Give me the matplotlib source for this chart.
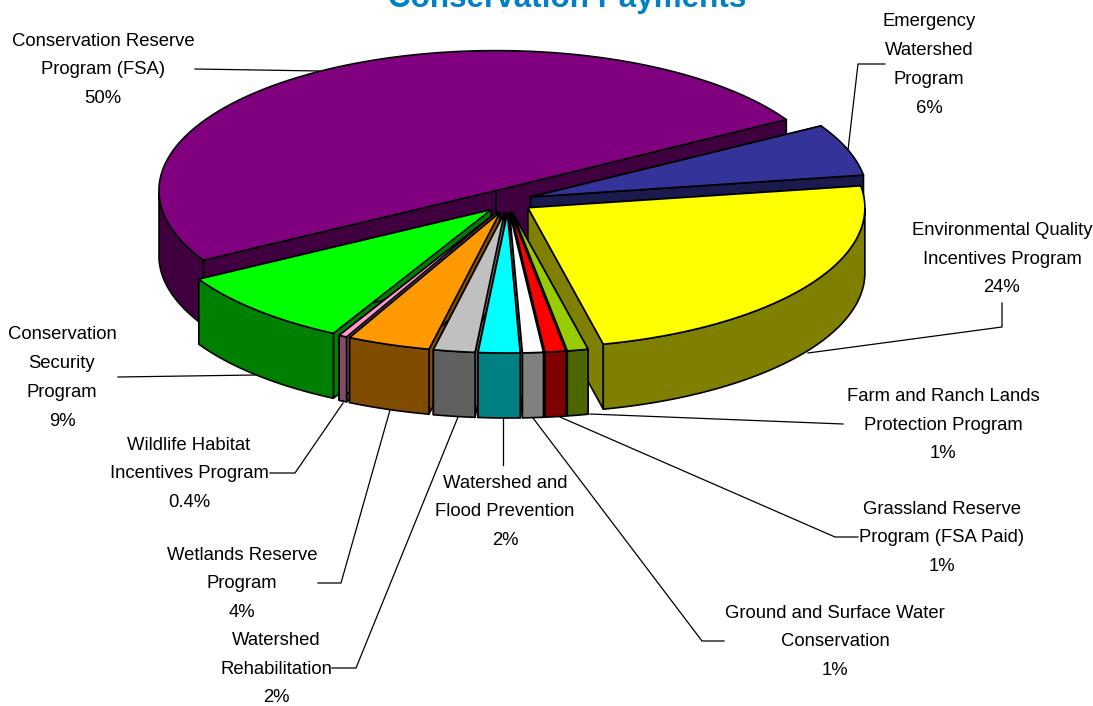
import numpy as np
import matplotlib
matplotlib.use('Agg')
import matplotlib.pyplot as plt
from matplotlib.patches import Polygon

plt.rcParams['font.family'] = ['Liberation Sans', 'DejaVu Sans']

# Clockwise from the back right of the pie
names = ['Emergency\nWatershed\nProgram',
         'Environmental Quality\nIncentives Program',
         'Farm and Ranch Lands\nProtection Program',
         'Grassland Reserve\nProgram (FSA Paid)',
         'Ground and Surface Water\nConservation',
         'Watershed and\nFlood Prevention',
         'Watershed\nRehabilitation',
         'Wetlands Reserve\nProgram',
         'Wildlife Habitat\nIncentives Program',
         'Conservation\nSecurity\nProgram',
         'Conservation Reserve\nProgram (FSA)']
values = [6, 24, 1, 1, 1, 2, 2, 4, 0.4, 9, 50]
colors = ['#333399', '#FFFF00', '#99CC00', '#FF0000', '#FFFFFF', '#00FFFF',
          '#C0C0C0', '#FF9900', '#FF99CC', '#00FF00', '#800080']

# Pie geometry, in pixels
cx, cy = 508, 201
rx, ry = 337, 140
depth = 65
explode_x, explode_y = 24, 12
start_angle = 30.5

# Slices are painted back to front
paint_order = [10, 0, 1, 9, 8, 7, 6, 2, 3, 4, 5]

# Label block centre (x, y) and leader line points
label_pos = [(929, 65), (1002, 259), (943, 425), (942, 538), (835, 642),
             (505, 512), (276, 669), (242, 584), (189, 474), (62, 378), (103, 70)]
leaders = [[(885, 64), (858, 64), (848, 150)],
           [(1002, 303), (1002, 327), (808, 353)],
           [(843, 424), (590, 414)],
           [(858, 537), (835, 537), (560, 417)],
           [(724, 641), (702, 641), (533, 418)],
           [(503, 465), (503, 418)],
           [(332, 668), (356, 668), (458, 417)],
           [(318, 583), (341, 583), (390, 410)],
           [(270, 473), (295, 473), (343, 403)],
           [(118, 377), (255, 375)],
           [(195, 69), (320, 71)]]

fig = plt.figure(figsize=(10.93, 7.06), dpi=100)
ax = fig.add_axes([0, 0, 1, 1])
ax.set_xlim(0, 1093)
ax.set_ylim(706, 0)
ax.axis('off')

# Angle range of each slice, going clockwise
sweeps = np.array(values) / sum(values) * 360
ends = start_angle - np.cumsum(sweeps)
starts = ends + sweeps


def darker(color):
    rgb = np.array(matplotlib.colors.to_rgb(color))
    return tuple(rgb * 0.5)


def add_poly(points, color):
    ax.add_patch(Polygon(points, closed=True, facecolor=color, edgecolor='black',
                         linewidth=1.2, joinstyle='round'))


def draw_slice(i):
    t = np.radians(np.linspace(starts[i], ends[i], 120))
    mid = np.radians((starts[i] + ends[i]) / 2)
    x0 = cx + explode_x * np.cos(mid)
    y0 = cy - explode_y * np.sin(mid)
    xs = x0 + rx * np.cos(t)
    ys = y0 - ry * np.sin(t)
    wall = darker(colors[i])

    # Cut faces running from the centre to the rim
    for x1, y1 in [(xs[0], ys[0]), (xs[-1], ys[-1])]:
        add_poly([(x0, y0), (x1, y1), (x1, y1 + depth), (x0, y0 + depth)], wall)

    # Only the front half of the rim can be seen
    front = np.sin(t) <= 0
    if front.sum() > 1:
        rim = list(zip(xs[front], ys[front])) + list(zip(xs[front][::-1], ys[front][::-1] + depth))
        add_poly(rim, wall)

    add_poly([(x0, y0)] + list(zip(xs, ys)), colors[i])


for i in paint_order:
    draw_slice(i)

for i, name in enumerate(names):
    x, y = label_pos[i]
    ax.text(x, y, f'{name}\n{values[i]:g}%', ha='center', va='center', ma='center',
            fontsize=13.3, linespacing=1.92, color='black')
    pts = np.array(leaders[i])
    ax.plot(pts[:, 0], pts[:, 1], color='black', linewidth=0.9)

ax.text(567, 7, 'Conservation Payments', ha='center', va='baseline',
        fontsize=22.6, fontweight='bold', color='#0080C8')

fig.savefig('out.png', dpi=100)
